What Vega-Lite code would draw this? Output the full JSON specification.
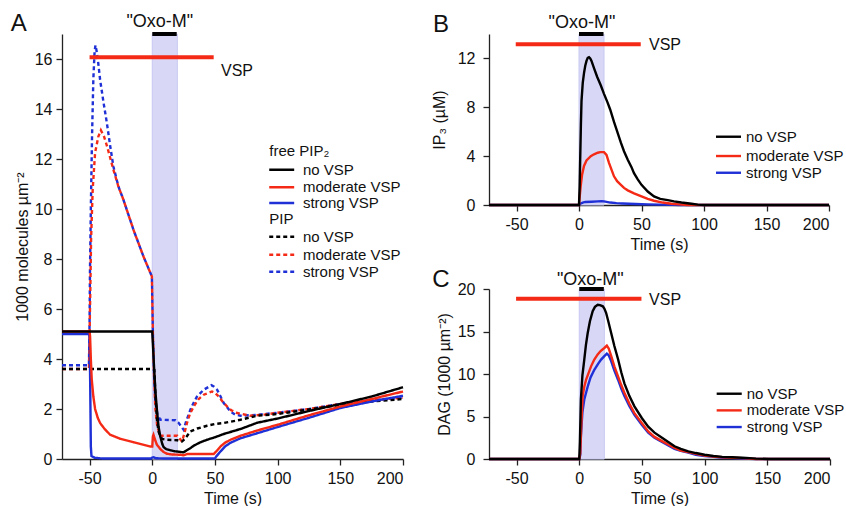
{
  "$schema": "https://vega.github.io/schema/vega-lite/v6.json",
  "background": "white",
  "padding": {"left": 10, "top": 11, "right": 0, "bottom": 0},
  "config": {
    "view": {"stroke": null},
    "font": "Liberation Sans",
    "axis": {"grid": false, "domainColor": "#222", "tickColor": "#222", "labelColor": "#111", "titleColor": "#111", "labelFont": "Liberation Sans", "titleFont": "Liberation Sans", "labelFontSize": 16, "titleFontSize": 16, "titleFontWeight": "normal", "tickSize": 6, "tickWidth": 1.3, "domainWidth": 1.3}
  },
  "hconcat": [
    {
      "width": 341,
      "height": 425,
      "encoding": {
        "x": {"field": "t", "type": "quantitative", "scale": {"domain": [-72, 200], "nice": false, "zero": false}, "axis": {"values": [-50, 0, 50, 100, 150, 200], "labelExpr": "datum.value < 0 ? '-' + abs(datum.value) : datum.label", "title": "Time (s)", "labelPadding": 5, "titlePadding": 4}},
        "y": {"field": "v", "type": "quantitative", "scale": {"domain": [0, 17], "nice": false, "zero": false}, "axis": {"values": [0, 2, 4, 6, 8, 10, 12, 14, 16], "title": "1000 molecules µm⁻²", "labelPadding": 4, "titlePadding": 4}}
      },
      "layer": [
        {
          "data": {"values": [{"t": 0, "t2": 20, "v": 0, "v2": 17}]},
          "mark": {"type": "rect", "fill": "#d8d8f6", "stroke": "#c8c8f2", "strokeWidth": 1},
          "encoding": {"x2": {"field": "t2"}, "y2": {"field": "v2"}}
        },
        {
          "data": {"values": [
            {"t": -72, "v": 3.75, "vsp": "strong", "lipid": "PIP"}, {"t": -50.5, "v": 3.75, "vsp": "strong", "lipid": "PIP"}, {"t": -50, "v": 5.5, "vsp": "strong", "lipid": "PIP"}, {"t": -49.7, "v": 7.45, "vsp": "strong", "lipid": "PIP"}, {"t": -49, "v": 10, "vsp": "strong", "lipid": "PIP"}, {"t": -48, "v": 13, "vsp": "strong", "lipid": "PIP"}, {"t": -47, "v": 15.2, "vsp": "strong", "lipid": "PIP"}, {"t": -46, "v": 16.3, "vsp": "strong", "lipid": "PIP"}, {"t": -45.3, "v": 16.55, "vsp": "strong", "lipid": "PIP"}, {"t": -44.5, "v": 16.35, "vsp": "strong", "lipid": "PIP"}, {"t": -43, "v": 15.8, "vsp": "strong", "lipid": "PIP"}, {"t": -41.6, "v": 15.17, "vsp": "strong", "lipid": "PIP"}, {"t": -39, "v": 14.3, "vsp": "strong", "lipid": "PIP"}, {"t": -36.2, "v": 13.44, "vsp": "strong", "lipid": "PIP"}, {"t": -33.5, "v": 12.5, "vsp": "strong", "lipid": "PIP"}, {"t": -31, "v": 11.7, "vsp": "strong", "lipid": "PIP"}, {"t": -27, "v": 10.9, "vsp": "strong", "lipid": "PIP"}, {"t": -23, "v": 10.37, "vsp": "strong", "lipid": "PIP"}, {"t": -15, "v": 9.17, "vsp": "strong", "lipid": "PIP"}, {"t": -7, "v": 8.1, "vsp": "strong", "lipid": "PIP"}, {"t": -0.3, "v": 7.3, "vsp": "strong", "lipid": "PIP"}, {"t": 0, "v": 6.5, "vsp": "strong", "lipid": "PIP"}, {"t": 0.5, "v": 5, "vsp": "strong", "lipid": "PIP"}, {"t": 1.5, "v": 3.3, "vsp": "strong", "lipid": "PIP"}, {"t": 2.5, "v": 2.3, "vsp": "strong", "lipid": "PIP"}, {"t": 4, "v": 1.8, "vsp": "strong", "lipid": "PIP"}, {"t": 6.4, "v": 1.57, "vsp": "strong", "lipid": "PIP"}, {"t": 18.4, "v": 1.55, "vsp": "strong", "lipid": "PIP"}, {"t": 21, "v": 1.45, "vsp": "strong", "lipid": "PIP"}, {"t": 25, "v": 1.17, "vsp": "strong", "lipid": "PIP"}, {"t": 27, "v": 1.5, "vsp": "strong", "lipid": "PIP"}, {"t": 30.4, "v": 1.97, "vsp": "strong", "lipid": "PIP"}, {"t": 33, "v": 2.25, "vsp": "strong", "lipid": "PIP"}, {"t": 35.7, "v": 2.5, "vsp": "strong", "lipid": "PIP"}, {"t": 41, "v": 2.77, "vsp": "strong", "lipid": "PIP"}, {"t": 47.2, "v": 2.95, "vsp": "strong", "lipid": "PIP"}, {"t": 49, "v": 2.9, "vsp": "strong", "lipid": "PIP"}, {"t": 51.7, "v": 2.77, "vsp": "strong", "lipid": "PIP"}, {"t": 54, "v": 2.55, "vsp": "strong", "lipid": "PIP"}, {"t": 57, "v": 2.24, "vsp": "strong", "lipid": "PIP"}, {"t": 62.4, "v": 1.9, "vsp": "strong", "lipid": "PIP"}, {"t": 66, "v": 1.78, "vsp": "strong", "lipid": "PIP"}, {"t": 70.4, "v": 1.73, "vsp": "strong", "lipid": "PIP"}, {"t": 83.7, "v": 1.77, "vsp": "strong", "lipid": "PIP"}, {"t": 100, "v": 1.85, "vsp": "strong", "lipid": "PIP"}, {"t": 125, "v": 2.0, "vsp": "strong", "lipid": "PIP"}, {"t": 150, "v": 2.2, "vsp": "strong", "lipid": "PIP"}, {"t": 175, "v": 2.35, "vsp": "strong", "lipid": "PIP"}, {"t": 200, "v": 2.45, "vsp": "strong", "lipid": "PIP"},
            {"t": -72, "v": 3.6, "vsp": "moderate", "lipid": "PIP"}, {"t": -50.5, "v": 3.6, "vsp": "moderate", "lipid": "PIP"}, {"t": -50, "v": 5.0, "vsp": "moderate", "lipid": "PIP"}, {"t": -49.5, "v": 6.5, "vsp": "moderate", "lipid": "PIP"}, {"t": -48.8, "v": 8.8, "vsp": "moderate", "lipid": "PIP"}, {"t": -47.5, "v": 10.8, "vsp": "moderate", "lipid": "PIP"}, {"t": -45.6, "v": 12.25, "vsp": "moderate", "lipid": "PIP"}, {"t": -43, "v": 12.9, "vsp": "moderate", "lipid": "PIP"}, {"t": -41, "v": 13.15, "vsp": "moderate", "lipid": "PIP"}, {"t": -38.5, "v": 12.9, "vsp": "moderate", "lipid": "PIP"}, {"t": -36, "v": 12.5, "vsp": "moderate", "lipid": "PIP"}, {"t": -31, "v": 11.57, "vsp": "moderate", "lipid": "PIP"}, {"t": -27, "v": 10.9, "vsp": "moderate", "lipid": "PIP"}, {"t": -23, "v": 10.37, "vsp": "moderate", "lipid": "PIP"}, {"t": -15, "v": 9.17, "vsp": "moderate", "lipid": "PIP"}, {"t": -7, "v": 8.1, "vsp": "moderate", "lipid": "PIP"}, {"t": -0.3, "v": 7.3, "vsp": "moderate", "lipid": "PIP"}, {"t": 0, "v": 6.5, "vsp": "moderate", "lipid": "PIP"}, {"t": 0.5, "v": 5.0, "vsp": "moderate", "lipid": "PIP"}, {"t": 1.5, "v": 3.2, "vsp": "moderate", "lipid": "PIP"}, {"t": 2.5, "v": 2.0, "vsp": "moderate", "lipid": "PIP"}, {"t": 4, "v": 1.3, "vsp": "moderate", "lipid": "PIP"}, {"t": 6.4, "v": 0.93, "vsp": "moderate", "lipid": "PIP"}, {"t": 20, "v": 0.93, "vsp": "moderate", "lipid": "PIP"}, {"t": 23.7, "v": 0.7, "vsp": "moderate", "lipid": "PIP"}, {"t": 25.5, "v": 1.0, "vsp": "moderate", "lipid": "PIP"}, {"t": 27.7, "v": 1.44, "vsp": "moderate", "lipid": "PIP"}, {"t": 30, "v": 1.8, "vsp": "moderate", "lipid": "PIP"}, {"t": 33, "v": 2.1, "vsp": "moderate", "lipid": "PIP"}, {"t": 37, "v": 2.4, "vsp": "moderate", "lipid": "PIP"}, {"t": 41, "v": 2.57, "vsp": "moderate", "lipid": "PIP"}, {"t": 47.7, "v": 2.7, "vsp": "moderate", "lipid": "PIP"}, {"t": 50, "v": 2.65, "vsp": "moderate", "lipid": "PIP"}, {"t": 53, "v": 2.5, "vsp": "moderate", "lipid": "PIP"}, {"t": 56, "v": 2.3, "vsp": "moderate", "lipid": "PIP"}, {"t": 59.7, "v": 2.1, "vsp": "moderate", "lipid": "PIP"}, {"t": 63, "v": 1.95, "vsp": "moderate", "lipid": "PIP"}, {"t": 67.7, "v": 1.84, "vsp": "moderate", "lipid": "PIP"}, {"t": 78, "v": 1.73, "vsp": "moderate", "lipid": "PIP"}, {"t": 90, "v": 1.78, "vsp": "moderate", "lipid": "PIP"}, {"t": 100, "v": 1.85, "vsp": "moderate", "lipid": "PIP"}, {"t": 125, "v": 2.0, "vsp": "moderate", "lipid": "PIP"}, {"t": 150, "v": 2.2, "vsp": "moderate", "lipid": "PIP"}, {"t": 175, "v": 2.35, "vsp": "moderate", "lipid": "PIP"}, {"t": 200, "v": 2.45, "vsp": "moderate", "lipid": "PIP"},
            {"t": -72, "v": 3.6, "vsp": "no", "lipid": "PIP"}, {"t": 0, "v": 3.6, "vsp": "no", "lipid": "PIP"}, {"t": 1.6, "v": 3.57, "vsp": "no", "lipid": "PIP"}, {"t": 2.5, "v": 2.6, "vsp": "no", "lipid": "PIP"}, {"t": 3.7, "v": 1.57, "vsp": "no", "lipid": "PIP"}, {"t": 5, "v": 1.1, "vsp": "no", "lipid": "PIP"}, {"t": 6.4, "v": 0.9, "vsp": "no", "lipid": "PIP"}, {"t": 8, "v": 0.8, "vsp": "no", "lipid": "PIP"}, {"t": 11.7, "v": 0.77, "vsp": "no", "lipid": "PIP"}, {"t": 20, "v": 0.75, "vsp": "no", "lipid": "PIP"}, {"t": 23.7, "v": 0.7, "vsp": "no", "lipid": "PIP"}, {"t": 26, "v": 0.8, "vsp": "no", "lipid": "PIP"}, {"t": 30.4, "v": 1.1, "vsp": "no", "lipid": "PIP"}, {"t": 36, "v": 1.22, "vsp": "no", "lipid": "PIP"}, {"t": 43.7, "v": 1.33, "vsp": "no", "lipid": "PIP"}, {"t": 50, "v": 1.4, "vsp": "no", "lipid": "PIP"}, {"t": 57, "v": 1.44, "vsp": "no", "lipid": "PIP"}, {"t": 70.4, "v": 1.57, "vsp": "no", "lipid": "PIP"}, {"t": 83.7, "v": 1.73, "vsp": "no", "lipid": "PIP"}, {"t": 100, "v": 1.8, "vsp": "no", "lipid": "PIP"}, {"t": 125, "v": 1.98, "vsp": "no", "lipid": "PIP"}, {"t": 150, "v": 2.17, "vsp": "no", "lipid": "PIP"}, {"t": 175, "v": 2.3, "vsp": "no", "lipid": "PIP"}, {"t": 200, "v": 2.4, "vsp": "no", "lipid": "PIP"},
            {"t": -72, "v": 5.0, "vsp": "strong", "lipid": "PIP2"}, {"t": -50, "v": 5.0, "vsp": "strong", "lipid": "PIP2"}, {"t": -49.5, "v": 3.0, "vsp": "strong", "lipid": "PIP2"}, {"t": -49, "v": 0.5, "vsp": "strong", "lipid": "PIP2"}, {"t": -48.5, "v": 0.12, "vsp": "strong", "lipid": "PIP2"}, {"t": -46, "v": 0.05, "vsp": "strong", "lipid": "PIP2"}, {"t": -40, "v": 0.02, "vsp": "strong", "lipid": "PIP2"}, {"t": -1, "v": 0.02, "vsp": "strong", "lipid": "PIP2"}, {"t": 0, "v": 0.06, "vsp": "strong", "lipid": "PIP2"}, {"t": 1, "v": 0.07, "vsp": "strong", "lipid": "PIP2"}, {"t": 3, "v": 0.03, "vsp": "strong", "lipid": "PIP2"}, {"t": 10, "v": 0.02, "vsp": "strong", "lipid": "PIP2"}, {"t": 50, "v": 0.02, "vsp": "strong", "lipid": "PIP2"}, {"t": 51, "v": 0.1, "vsp": "strong", "lipid": "PIP2"}, {"t": 54.4, "v": 0.3, "vsp": "strong", "lipid": "PIP2"}, {"t": 58, "v": 0.5, "vsp": "strong", "lipid": "PIP2"}, {"t": 62.4, "v": 0.65, "vsp": "strong", "lipid": "PIP2"}, {"t": 70.4, "v": 0.83, "vsp": "strong", "lipid": "PIP2"}, {"t": 83.7, "v": 1.03, "vsp": "strong", "lipid": "PIP2"}, {"t": 100, "v": 1.28, "vsp": "strong", "lipid": "PIP2"}, {"t": 125, "v": 1.65, "vsp": "strong", "lipid": "PIP2"}, {"t": 150, "v": 2.04, "vsp": "strong", "lipid": "PIP2"}, {"t": 175, "v": 2.3, "vsp": "strong", "lipid": "PIP2"}, {"t": 200, "v": 2.53, "vsp": "strong", "lipid": "PIP2"},
            {"t": -72, "v": 5.1, "vsp": "moderate", "lipid": "PIP2"}, {"t": -50, "v": 5.1, "vsp": "moderate", "lipid": "PIP2"}, {"t": -49.6, "v": 4.9, "vsp": "moderate", "lipid": "PIP2"}, {"t": -49, "v": 4.0, "vsp": "moderate", "lipid": "PIP2"}, {"t": -48.3, "v": 3.2, "vsp": "moderate", "lipid": "PIP2"}, {"t": -47, "v": 2.5, "vsp": "moderate", "lipid": "PIP2"}, {"t": -45.6, "v": 2.0, "vsp": "moderate", "lipid": "PIP2"}, {"t": -43.5, "v": 1.65, "vsp": "moderate", "lipid": "PIP2"}, {"t": -41.6, "v": 1.44, "vsp": "moderate", "lipid": "PIP2"}, {"t": -38, "v": 1.2, "vsp": "moderate", "lipid": "PIP2"}, {"t": -33.6, "v": 0.97, "vsp": "moderate", "lipid": "PIP2"}, {"t": -25.6, "v": 0.81, "vsp": "moderate", "lipid": "PIP2"}, {"t": -15, "v": 0.67, "vsp": "moderate", "lipid": "PIP2"}, {"t": -1.6, "v": 0.5, "vsp": "moderate", "lipid": "PIP2"}, {"t": 0, "v": 0.5, "vsp": "moderate", "lipid": "PIP2"}, {"t": 0.5, "v": 0.9, "vsp": "moderate", "lipid": "PIP2"}, {"t": 1, "v": 0.97, "vsp": "moderate", "lipid": "PIP2"}, {"t": 2, "v": 0.8, "vsp": "moderate", "lipid": "PIP2"}, {"t": 3.7, "v": 0.57, "vsp": "moderate", "lipid": "PIP2"}, {"t": 6.4, "v": 0.4, "vsp": "moderate", "lipid": "PIP2"}, {"t": 9, "v": 0.28, "vsp": "moderate", "lipid": "PIP2"}, {"t": 11.7, "v": 0.21, "vsp": "moderate", "lipid": "PIP2"}, {"t": 16, "v": 0.18, "vsp": "moderate", "lipid": "PIP2"}, {"t": 22, "v": 0.17, "vsp": "moderate", "lipid": "PIP2"}, {"t": 25, "v": 0.15, "vsp": "moderate", "lipid": "PIP2"}, {"t": 28, "v": 0.2, "vsp": "moderate", "lipid": "PIP2"}, {"t": 49, "v": 0.2, "vsp": "moderate", "lipid": "PIP2"}, {"t": 51, "v": 0.3, "vsp": "moderate", "lipid": "PIP2"}, {"t": 54.4, "v": 0.5, "vsp": "moderate", "lipid": "PIP2"}, {"t": 58, "v": 0.65, "vsp": "moderate", "lipid": "PIP2"}, {"t": 62.4, "v": 0.77, "vsp": "moderate", "lipid": "PIP2"}, {"t": 70.4, "v": 0.93, "vsp": "moderate", "lipid": "PIP2"}, {"t": 83.7, "v": 1.14, "vsp": "moderate", "lipid": "PIP2"}, {"t": 100, "v": 1.37, "vsp": "moderate", "lipid": "PIP2"}, {"t": 125, "v": 1.75, "vsp": "moderate", "lipid": "PIP2"}, {"t": 150, "v": 2.1, "vsp": "moderate", "lipid": "PIP2"}, {"t": 175, "v": 2.4, "vsp": "moderate", "lipid": "PIP2"}, {"t": 200, "v": 2.7, "vsp": "moderate", "lipid": "PIP2"},
            {"t": -72, "v": 5.1, "vsp": "no", "lipid": "PIP2"}, {"t": 0, "v": 5.1, "vsp": "no", "lipid": "PIP2"}, {"t": 0.5, "v": 4.6, "vsp": "no", "lipid": "PIP2"}, {"t": 1.5, "v": 3.6, "vsp": "no", "lipid": "PIP2"}, {"t": 2.5, "v": 2.7, "vsp": "no", "lipid": "PIP2"}, {"t": 3.7, "v": 1.97, "vsp": "no", "lipid": "PIP2"}, {"t": 5, "v": 1.3, "vsp": "no", "lipid": "PIP2"}, {"t": 6.4, "v": 0.9, "vsp": "no", "lipid": "PIP2"}, {"t": 8, "v": 0.6, "vsp": "no", "lipid": "PIP2"}, {"t": 9, "v": 0.48, "vsp": "no", "lipid": "PIP2"}, {"t": 11, "v": 0.4, "vsp": "no", "lipid": "PIP2"}, {"t": 14.4, "v": 0.35, "vsp": "no", "lipid": "PIP2"}, {"t": 18, "v": 0.31, "vsp": "no", "lipid": "PIP2"}, {"t": 22.4, "v": 0.28, "vsp": "no", "lipid": "PIP2"}, {"t": 25, "v": 0.27, "vsp": "no", "lipid": "PIP2"}, {"t": 27, "v": 0.33, "vsp": "no", "lipid": "PIP2"}, {"t": 30, "v": 0.42, "vsp": "no", "lipid": "PIP2"}, {"t": 33, "v": 0.53, "vsp": "no", "lipid": "PIP2"}, {"t": 38, "v": 0.66, "vsp": "no", "lipid": "PIP2"}, {"t": 43.7, "v": 0.77, "vsp": "no", "lipid": "PIP2"}, {"t": 50, "v": 0.87, "vsp": "no", "lipid": "PIP2"}, {"t": 57, "v": 1.0, "vsp": "no", "lipid": "PIP2"}, {"t": 65, "v": 1.12, "vsp": "no", "lipid": "PIP2"}, {"t": 70.4, "v": 1.2, "vsp": "no", "lipid": "PIP2"}, {"t": 83.7, "v": 1.45, "vsp": "no", "lipid": "PIP2"}, {"t": 100, "v": 1.62, "vsp": "no", "lipid": "PIP2"}, {"t": 125, "v": 1.92, "vsp": "no", "lipid": "PIP2"}, {"t": 150, "v": 2.2, "vsp": "no", "lipid": "PIP2"}, {"t": 175, "v": 2.5, "vsp": "no", "lipid": "PIP2"}, {"t": 200, "v": 2.87, "vsp": "no", "lipid": "PIP2"}
          ]},
          "mark": {"type": "line", "strokeWidth": 2.4},
          "encoding": {
            "color": {"field": "vsp", "type": "nominal", "scale": {"domain": ["no", "moderate", "strong"], "range": ["#000000", "#f42a16", "#1e30d6"]}, "legend": null},
            "strokeDash": {"field": "lipid", "type": "nominal", "scale": {"domain": ["PIP2", "PIP"], "range": [[1, 0], [4, 3]]}, "legend": null}
          }
        },
        {
          "data": {"values": [{"t": -50, "t2": 49, "v": 16.07}]},
          "mark": {"type": "rule", "color": "#f42a16", "strokeWidth": 4},
          "encoding": {"x2": {"field": "t2"}}
        },
        {
          "data": {"values": [{"t": 0, "t2": 19.5, "v": 17.0}]},
          "mark": {"type": "rule", "color": "#000000", "strokeWidth": 4},
          "encoding": {"x2": {"field": "t2"}}
        },
        {
          "data": {"values": [
            {"t": 93.3, "t2": 113.2, "v": 11.57, "vsp": "no", "lipid": "PIP2"},
            {"t": 93.3, "t2": 113.2, "v": 10.87, "vsp": "moderate", "lipid": "PIP2"},
            {"t": 93.3, "t2": 113.2, "v": 10.24, "vsp": "strong", "lipid": "PIP2"},
            {"t": 93.3, "t2": 113.2, "v": 8.89, "vsp": "no", "lipid": "PIP"},
            {"t": 93.3, "t2": 113.2, "v": 8.17, "vsp": "moderate", "lipid": "PIP"},
            {"t": 93.3, "t2": 113.2, "v": 7.49, "vsp": "strong", "lipid": "PIP"}
          ]},
          "mark": {"type": "rule", "strokeWidth": 2.4},
          "encoding": {
            "x2": {"field": "t2"},
            "color": {"field": "vsp", "type": "nominal", "scale": {"domain": ["no", "moderate", "strong"], "range": ["#000000", "#f42a16", "#1e30d6"]}, "legend": null},
            "strokeDash": {"field": "lipid", "type": "nominal", "scale": {"domain": ["PIP2", "PIP"], "range": [[1, 0], [4, 3]]}, "legend": null}
          }
        },
        {
          "data": {"values": [
            {"t": 93.3, "v": 12.33, "label": "free PIP₂"},
            {"t": 120.2, "v": 11.57, "label": "no VSP"},
            {"t": 120.2, "v": 10.87, "label": "moderate VSP"},
            {"t": 120.2, "v": 10.24, "label": "strong VSP"},
            {"t": 93.3, "v": 9.6, "label": "PIP"},
            {"t": 120.2, "v": 8.89, "label": "no VSP"},
            {"t": 120.2, "v": 8.17, "label": "moderate VSP"},
            {"t": 120.2, "v": 7.49, "label": "strong VSP"}
          ]},
          "mark": {"type": "text", "align": "left", "baseline": "middle", "fontSize": 15, "color": "#111"},
          "encoding": {"text": {"field": "label"}}
        },
        {
          "data": {"values": [{"t": 54.8, "v": 15.32, "label": "VSP"}]},
          "mark": {"type": "text", "align": "left", "baseline": "alphabetic", "fontSize": 16, "color": "#111"},
          "encoding": {"text": {"field": "label"}}
        },
        {
          "data": {"values": [{"t": 6, "v": 17.28, "label": "\"Oxo-M\""}]},
          "mark": {"type": "text", "align": "center", "baseline": "alphabetic", "fontSize": 18, "color": "#111"},
          "encoding": {"text": {"field": "label"}}
        },
        {
          "data": {"values": [{"t": -106.4, "v": 17.12, "label": "A"}]},
          "mark": {"type": "text", "align": "center", "baseline": "alphabetic", "fontSize": 24, "color": "#111"},
          "encoding": {"text": {"field": "label"}}
        }
      ]
    },
    {
      "vconcat": [
        {
          "width": 340,
          "height": 171,
          "encoding": {
            "x": {"field": "t", "type": "quantitative", "scale": {"domain": [-72, 200], "nice": false, "zero": false}, "axis": {"values": [-50, 0, 50, 100, 150, 200], "labelExpr": "datum.value < 0 ? '-' + abs(datum.value) : datum.label", "title": "Time (s)", "labelPadding": 5, "titlePadding": 4}},
            "y": {"field": "v", "type": "quantitative", "scale": {"domain": [0, 14], "nice": false, "zero": false}, "axis": {"values": [0, 4, 8, 12], "title": "IP₃ (µM)", "labelPadding": 8, "titlePadding": 10}}
          },
          "layer": [
            {
              "data": {"values": [{"t": 0, "t2": 20, "v": 0, "v2": 14}]},
              "mark": {"type": "rect", "fill": "#d8d8f6", "stroke": "#c8c8f2", "strokeWidth": 1},
              "encoding": {"x2": {"field": "t2"}, "y2": {"field": "v2"}}
            },
            {
              "data": {"values": [
                {"t": -72, "v": 0, "vsp": "strong"}, {"t": 0, "v": 0, "vsp": "strong"}, {"t": 1, "v": 0.1, "vsp": "strong"}, {"t": 3, "v": 0.2, "vsp": "strong"}, {"t": 5, "v": 0.25, "vsp": "strong"}, {"t": 10, "v": 0.27, "vsp": "strong"}, {"t": 15, "v": 0.3, "vsp": "strong"}, {"t": 18, "v": 0.32, "vsp": "strong"}, {"t": 20, "v": 0.3, "vsp": "strong"}, {"t": 25, "v": 0.2, "vsp": "strong"}, {"t": 30, "v": 0.15, "vsp": "strong"}, {"t": 35, "v": 0.12, "vsp": "strong"}, {"t": 45, "v": 0.08, "vsp": "strong"}, {"t": 55, "v": 0.05, "vsp": "strong"}, {"t": 65, "v": 0.03, "vsp": "strong"}, {"t": 75, "v": 0.01, "vsp": "strong"}, {"t": 80, "v": 0, "vsp": "strong"}, {"t": 200, "v": 0, "vsp": "strong"},
                {"t": -72, "v": 0, "vsp": "moderate"}, {"t": 0, "v": 0, "vsp": "moderate"}, {"t": 0.5, "v": 0.6, "vsp": "moderate"}, {"t": 1.3, "v": 1.5, "vsp": "moderate"}, {"t": 2.5, "v": 2.5, "vsp": "moderate"}, {"t": 4, "v": 3.2, "vsp": "moderate"}, {"t": 6, "v": 3.65, "vsp": "moderate"}, {"t": 9.4, "v": 4.0, "vsp": "moderate"}, {"t": 12, "v": 4.15, "vsp": "moderate"}, {"t": 15, "v": 4.28, "vsp": "moderate"}, {"t": 17, "v": 4.33, "vsp": "moderate"}, {"t": 20, "v": 4.33, "vsp": "moderate"}, {"t": 22, "v": 4.1, "vsp": "moderate"}, {"t": 24, "v": 3.45, "vsp": "moderate"}, {"t": 26, "v": 2.9, "vsp": "moderate"}, {"t": 28, "v": 2.35, "vsp": "moderate"}, {"t": 30.5, "v": 1.95, "vsp": "moderate"}, {"t": 33.5, "v": 1.65, "vsp": "moderate"}, {"t": 36, "v": 1.4, "vsp": "moderate"}, {"t": 39, "v": 1.2, "vsp": "moderate"}, {"t": 44, "v": 0.95, "vsp": "moderate"}, {"t": 50, "v": 0.7, "vsp": "moderate"}, {"t": 55, "v": 0.5, "vsp": "moderate"}, {"t": 60, "v": 0.35, "vsp": "moderate"}, {"t": 67, "v": 0.2, "vsp": "moderate"}, {"t": 74, "v": 0.1, "vsp": "moderate"}, {"t": 80, "v": 0.05, "vsp": "moderate"}, {"t": 87, "v": 0, "vsp": "moderate"}, {"t": 200, "v": 0, "vsp": "moderate"},
                {"t": -72, "v": 0, "vsp": "no"}, {"t": 0, "v": 0, "vsp": "no"}, {"t": 0.5, "v": 1.5, "vsp": "no"}, {"t": 1, "v": 4, "vsp": "no"}, {"t": 1.5, "v": 6.5, "vsp": "no"}, {"t": 2, "v": 8.5, "vsp": "no"}, {"t": 3, "v": 10, "vsp": "no"}, {"t": 4, "v": 10.8, "vsp": "no"}, {"t": 5, "v": 11.4, "vsp": "no"}, {"t": 6, "v": 11.8, "vsp": "no"}, {"t": 7, "v": 12.05, "vsp": "no"}, {"t": 8, "v": 12.1, "vsp": "no"}, {"t": 9, "v": 12.0, "vsp": "no"}, {"t": 10, "v": 11.8, "vsp": "no"}, {"t": 12, "v": 11.2, "vsp": "no"}, {"t": 14.5, "v": 10.5, "vsp": "no"}, {"t": 17.4, "v": 9.8, "vsp": "no"}, {"t": 20, "v": 9.1, "vsp": "no"}, {"t": 22.8, "v": 8.4, "vsp": "no"}, {"t": 25, "v": 7.8, "vsp": "no"}, {"t": 28, "v": 6.8, "vsp": "no"}, {"t": 30, "v": 6.2, "vsp": "no"}, {"t": 33.5, "v": 5.1, "vsp": "no"}, {"t": 36, "v": 4.4, "vsp": "no"}, {"t": 39, "v": 3.7, "vsp": "no"}, {"t": 42, "v": 3.1, "vsp": "no"}, {"t": 44, "v": 2.6, "vsp": "no"}, {"t": 47, "v": 2.1, "vsp": "no"}, {"t": 50, "v": 1.65, "vsp": "no"}, {"t": 55, "v": 1.1, "vsp": "no"}, {"t": 60, "v": 0.7, "vsp": "no"}, {"t": 65, "v": 0.5, "vsp": "no"}, {"t": 71, "v": 0.4, "vsp": "no"}, {"t": 76, "v": 0.3, "vsp": "no"}, {"t": 82, "v": 0.2, "vsp": "no"}, {"t": 90, "v": 0.1, "vsp": "no"}, {"t": 95, "v": 0.03, "vsp": "no"}, {"t": 100, "v": 0, "vsp": "no"}, {"t": 200, "v": 0, "vsp": "no"}
              ]},
              "mark": {"type": "line", "strokeWidth": 2.4},
              "encoding": {"color": {"field": "vsp", "type": "nominal", "scale": {"domain": ["no", "moderate", "strong"], "range": ["#000000", "#f42a16", "#1e30d6"]}, "legend": null}}
            },
            {
              "data": {"values": [{"t": -50.6, "t2": 49.4, "v": 13.16}]},
              "mark": {"type": "rule", "color": "#f42a16", "strokeWidth": 4},
              "encoding": {"x2": {"field": "t2"}}
            },
            {
              "data": {"values": [{"t": 0, "t2": 19.6, "v": 14.0}]},
              "mark": {"type": "rule", "color": "#000000", "strokeWidth": 4},
              "encoding": {"x2": {"field": "t2"}}
            },
            {
              "data": {"values": [
                {"t": 109.6, "t2": 129.6, "v": 5.59, "vsp": "no"},
                {"t": 109.6, "t2": 129.6, "v": 4.01, "vsp": "moderate"},
                {"t": 109.6, "t2": 129.6, "v": 2.64, "vsp": "strong"}
              ]},
              "mark": {"type": "rule", "strokeWidth": 2.4},
              "encoding": {"x2": {"field": "t2"}, "color": {"field": "vsp", "type": "nominal", "scale": {"domain": ["no", "moderate", "strong"], "range": ["#000000", "#f42a16", "#1e30d6"]}, "legend": null}}
            },
            {
              "data": {"values": [
                {"t": 133.6, "v": 5.59, "label": "no VSP"},
                {"t": 133.6, "v": 4.01, "label": "moderate VSP"},
                {"t": 133.6, "v": 2.64, "label": "strong VSP"}
              ]},
              "mark": {"type": "text", "align": "left", "baseline": "middle", "fontSize": 15, "color": "#111"},
              "encoding": {"text": {"field": "label"}}
            },
            {
              "data": {"values": [{"t": 56, "v": 12.69, "label": "VSP"}]},
              "mark": {"type": "text", "align": "left", "baseline": "alphabetic", "fontSize": 16, "color": "#111"},
              "encoding": {"text": {"field": "label"}}
            },
            {
              "data": {"values": [{"t": 2.4, "v": 14.5, "label": "\"Oxo-M\""}]},
              "mark": {"type": "text", "align": "center", "baseline": "alphabetic", "fontSize": 18, "color": "#111"},
              "encoding": {"text": {"field": "label"}}
            },
            {
              "data": {"values": [{"t": -110.4, "v": 14.17, "label": "B"}]},
              "mark": {"type": "text", "align": "center", "baseline": "alphabetic", "fontSize": 24, "color": "#111"},
              "encoding": {"text": {"field": "label"}}
            }
          ]
        },
        {
          "width": 341,
          "height": 170,
          "encoding": {
            "x": {"field": "t", "type": "quantitative", "scale": {"domain": [-72, 200], "nice": false, "zero": false}, "axis": {"values": [-50, 0, 50, 100, 150, 200], "labelExpr": "datum.value < 0 ? '-' + abs(datum.value) : datum.label", "title": "Time (s)", "labelPadding": 5, "titlePadding": 4}},
            "y": {"field": "v", "type": "quantitative", "scale": {"domain": [0, 20], "nice": false, "zero": false}, "axis": {"values": [0, 5, 10, 15, 20], "title": "DAG (1000 µm⁻²)", "labelPadding": 8, "titlePadding": 5}}
          },
          "layer": [
            {
              "data": {"values": [{"t": 0, "t2": 20, "v": 0, "v2": 20}]},
              "mark": {"type": "rect", "fill": "#d8d8f6", "stroke": "#c8c8f2", "strokeWidth": 1},
              "encoding": {"x2": {"field": "t2"}, "y2": {"field": "v2"}}
            },
            {
              "data": {"values": [
                {"t": -72, "v": 0, "vsp": "strong"}, {"t": 0, "v": 0, "vsp": "strong"}, {"t": 0.8, "v": 0.5, "vsp": "strong"}, {"t": 1.3, "v": 2.7, "vsp": "strong"}, {"t": 2.5, "v": 5.5, "vsp": "strong"}, {"t": 4, "v": 7.0, "vsp": "strong"}, {"t": 6.7, "v": 8.5, "vsp": "strong"}, {"t": 9, "v": 9.6, "vsp": "strong"}, {"t": 12, "v": 10.5, "vsp": "strong"}, {"t": 15, "v": 11.2, "vsp": "strong"}, {"t": 17.4, "v": 11.7, "vsp": "strong"}, {"t": 20, "v": 12.1, "vsp": "strong"}, {"t": 22, "v": 12.4, "vsp": "strong"}, {"t": 23.5, "v": 12.2, "vsp": "strong"}, {"t": 25.5, "v": 11.5, "vsp": "strong"}, {"t": 28, "v": 10.4, "vsp": "strong"}, {"t": 31, "v": 9.3, "vsp": "strong"}, {"t": 33.5, "v": 8.3, "vsp": "strong"}, {"t": 36, "v": 7.4, "vsp": "strong"}, {"t": 40, "v": 6.2, "vsp": "strong"}, {"t": 44, "v": 5.2, "vsp": "strong"}, {"t": 50, "v": 4.0, "vsp": "strong"}, {"t": 55, "v": 3.1, "vsp": "strong"}, {"t": 60, "v": 2.5, "vsp": "strong"}, {"t": 66, "v": 2.0, "vsp": "strong"}, {"t": 71, "v": 1.6, "vsp": "strong"}, {"t": 76, "v": 1.2, "vsp": "strong"}, {"t": 81, "v": 0.95, "vsp": "strong"}, {"t": 87, "v": 0.75, "vsp": "strong"}, {"t": 93, "v": 0.5, "vsp": "strong"}, {"t": 100, "v": 0.35, "vsp": "strong"}, {"t": 107, "v": 0.25, "vsp": "strong"}, {"t": 114, "v": 0.15, "vsp": "strong"}, {"t": 122, "v": 0.1, "vsp": "strong"}, {"t": 130, "v": 0.05, "vsp": "strong"}, {"t": 141, "v": 0, "vsp": "strong"}, {"t": 200, "v": 0, "vsp": "strong"},
                {"t": -72, "v": 0, "vsp": "moderate"}, {"t": 0, "v": 0, "vsp": "moderate"}, {"t": 0.8, "v": 0.7, "vsp": "moderate"}, {"t": 1.5, "v": 3.5, "vsp": "moderate"}, {"t": 2.7, "v": 7.4, "vsp": "moderate"}, {"t": 4, "v": 8.5, "vsp": "moderate"}, {"t": 5.4, "v": 9.3, "vsp": "moderate"}, {"t": 7.4, "v": 10.1, "vsp": "moderate"}, {"t": 9.4, "v": 10.9, "vsp": "moderate"}, {"t": 12, "v": 11.7, "vsp": "moderate"}, {"t": 14.7, "v": 12.3, "vsp": "moderate"}, {"t": 17, "v": 12.7, "vsp": "moderate"}, {"t": 20, "v": 13.06, "vsp": "moderate"}, {"t": 22, "v": 13.33, "vsp": "moderate"}, {"t": 23.5, "v": 13.0, "vsp": "moderate"}, {"t": 25.5, "v": 12.1, "vsp": "moderate"}, {"t": 28, "v": 10.9, "vsp": "moderate"}, {"t": 31, "v": 9.7, "vsp": "moderate"}, {"t": 33.5, "v": 8.7, "vsp": "moderate"}, {"t": 36, "v": 7.8, "vsp": "moderate"}, {"t": 40, "v": 6.5, "vsp": "moderate"}, {"t": 44, "v": 5.4, "vsp": "moderate"}, {"t": 50, "v": 4.2, "vsp": "moderate"}, {"t": 55, "v": 3.25, "vsp": "moderate"}, {"t": 60, "v": 2.6, "vsp": "moderate"}, {"t": 66, "v": 2.1, "vsp": "moderate"}, {"t": 71, "v": 1.7, "vsp": "moderate"}, {"t": 76, "v": 1.3, "vsp": "moderate"}, {"t": 81, "v": 1.0, "vsp": "moderate"}, {"t": 87, "v": 0.8, "vsp": "moderate"}, {"t": 93, "v": 0.6, "vsp": "moderate"}, {"t": 100, "v": 0.4, "vsp": "moderate"}, {"t": 107, "v": 0.3, "vsp": "moderate"}, {"t": 114, "v": 0.2, "vsp": "moderate"}, {"t": 122, "v": 0.15, "vsp": "moderate"}, {"t": 130, "v": 0.1, "vsp": "moderate"}, {"t": 136, "v": 0.05, "vsp": "moderate"}, {"t": 141, "v": 0, "vsp": "moderate"}, {"t": 200, "v": 0, "vsp": "moderate"},
                {"t": -72, "v": 0, "vsp": "no"}, {"t": 0, "v": 0, "vsp": "no"}, {"t": 0.5, "v": 2, "vsp": "no"}, {"t": 1.3, "v": 7, "vsp": "no"}, {"t": 2.5, "v": 9.8, "vsp": "no"}, {"t": 4, "v": 11.7, "vsp": "no"}, {"t": 5.3, "v": 13.4, "vsp": "no"}, {"t": 6.7, "v": 14.8, "vsp": "no"}, {"t": 8.5, "v": 16.2, "vsp": "no"}, {"t": 10.7, "v": 17.4, "vsp": "no"}, {"t": 12.5, "v": 17.9, "vsp": "no"}, {"t": 14.7, "v": 18.15, "vsp": "no"}, {"t": 16.5, "v": 18.1, "vsp": "no"}, {"t": 18.8, "v": 17.96, "vsp": "no"}, {"t": 20, "v": 17.7, "vsp": "no"}, {"t": 21.4, "v": 17.2, "vsp": "no"}, {"t": 23, "v": 16.3, "vsp": "no"}, {"t": 25.5, "v": 14.8, "vsp": "no"}, {"t": 28, "v": 13.3, "vsp": "no"}, {"t": 31, "v": 11.7, "vsp": "no"}, {"t": 33.5, "v": 10.2, "vsp": "no"}, {"t": 36, "v": 8.9, "vsp": "no"}, {"t": 40, "v": 7.4, "vsp": "no"}, {"t": 44, "v": 6.2, "vsp": "no"}, {"t": 50, "v": 4.8, "vsp": "no"}, {"t": 55, "v": 3.8, "vsp": "no"}, {"t": 60, "v": 3.1, "vsp": "no"}, {"t": 66, "v": 2.5, "vsp": "no"}, {"t": 71, "v": 2.0, "vsp": "no"}, {"t": 76, "v": 1.5, "vsp": "no"}, {"t": 81, "v": 1.2, "vsp": "no"}, {"t": 87, "v": 0.9, "vsp": "no"}, {"t": 93, "v": 0.7, "vsp": "no"}, {"t": 100, "v": 0.5, "vsp": "no"}, {"t": 107, "v": 0.35, "vsp": "no"}, {"t": 114, "v": 0.25, "vsp": "no"}, {"t": 122, "v": 0.2, "vsp": "no"}, {"t": 130, "v": 0.15, "vsp": "no"}, {"t": 136, "v": 0.1, "vsp": "no"}, {"t": 141, "v": 0.05, "vsp": "no"}, {"t": 151, "v": 0, "vsp": "no"}, {"t": 200, "v": 0, "vsp": "no"}
              ]},
              "mark": {"type": "line", "strokeWidth": 2.4},
              "encoding": {"color": {"field": "vsp", "type": "nominal", "scale": {"domain": ["no", "moderate", "strong"], "range": ["#000000", "#f42a16", "#1e30d6"]}, "legend": null}}
            },
            {
              "data": {"values": [{"t": -50.4, "t2": 49.6, "v": 18.86}]},
              "mark": {"type": "rule", "color": "#f42a16", "strokeWidth": 4},
              "encoding": {"x2": {"field": "t2"}}
            },
            {
              "data": {"values": [{"t": 0, "t2": 19.6, "v": 20.0}]},
              "mark": {"type": "rule", "color": "#000000", "strokeWidth": 4},
              "encoding": {"x2": {"field": "t2"}}
            },
            {
              "data": {"values": [
                {"t": 109.6, "t2": 129.6, "v": 7.68, "vsp": "no"},
                {"t": 109.6, "t2": 129.6, "v": 5.72, "vsp": "moderate"},
                {"t": 109.6, "t2": 129.6, "v": 3.76, "vsp": "strong"}
              ]},
              "mark": {"type": "rule", "strokeWidth": 2.4},
              "encoding": {"x2": {"field": "t2"}, "color": {"field": "vsp", "type": "nominal", "scale": {"domain": ["no", "moderate", "strong"], "range": ["#000000", "#f42a16", "#1e30d6"]}, "legend": null}}
            },
            {
              "data": {"values": [
                {"t": 133.6, "v": 7.68, "label": "no VSP"},
                {"t": 133.6, "v": 5.72, "label": "moderate VSP"},
                {"t": 133.6, "v": 3.76, "label": "strong VSP"}
              ]},
              "mark": {"type": "text", "align": "left", "baseline": "middle", "fontSize": 15, "color": "#111"},
              "encoding": {"text": {"field": "label"}}
            },
            {
              "data": {"values": [{"t": 55.7, "v": 18.15, "label": "VSP"}]},
              "mark": {"type": "text", "align": "left", "baseline": "alphabetic", "fontSize": 16, "color": "#111"},
              "encoding": {"text": {"field": "label"}}
            },
            {
              "data": {"values": [{"t": 8.8, "v": 20.5, "label": "\"Oxo-M\""}]},
              "mark": {"type": "text", "align": "center", "baseline": "alphabetic", "fontSize": 18, "color": "#111"},
              "encoding": {"text": {"field": "label"}}
            },
            {
              "data": {"values": [{"t": -110.4, "v": 20.27, "label": "C"}]},
              "mark": {"type": "text", "align": "center", "baseline": "alphabetic", "fontSize": 24, "color": "#111"},
              "encoding": {"text": {"field": "label"}}
            }
          ]
        }
      ],
      "spacing": 84,
      "bounds": "flush"
    }
  ],
  "spacing": 86,
  "bounds": "flush"
}
